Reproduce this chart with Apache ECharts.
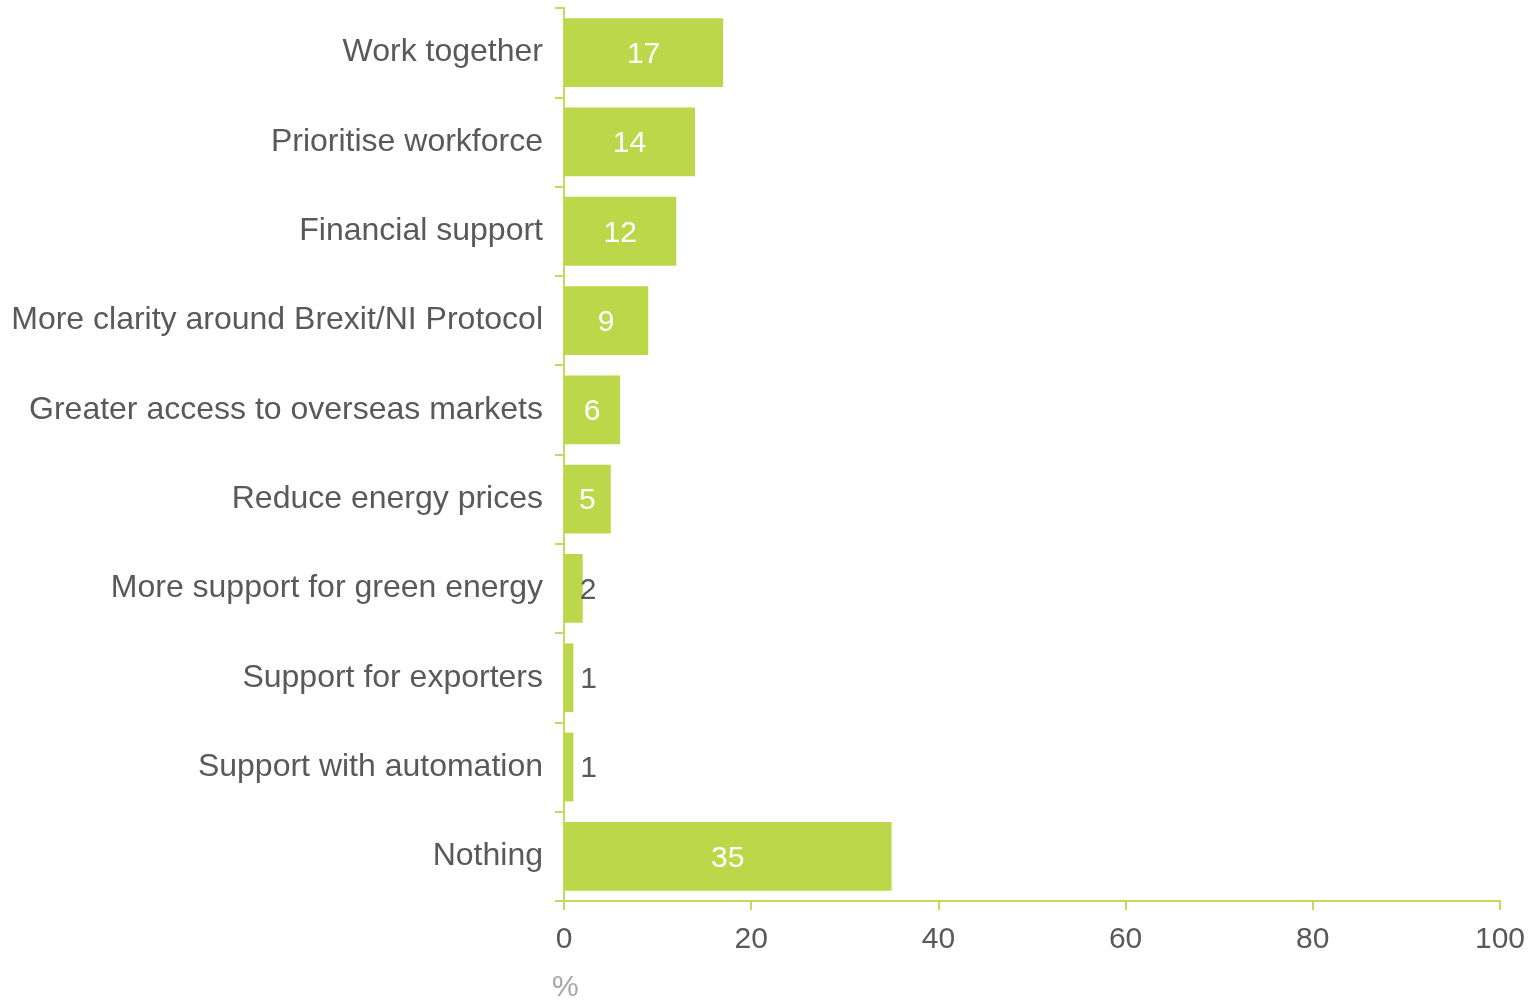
<!DOCTYPE html>
<html>
<head>
<meta charset="utf-8">
<script src="https://cdn.jsdelivr.net/npm/echarts@6/dist/echarts.min.js"></script>
<style>
  html, body { margin: 0; padding: 0; background: #fff; }
  #chart { width: 1532px; height: 1003px; }
</style>
</head>
<body>
<div id="chart"></div>
<script>
const categories = [
  'Work together',
  'Prioritise workforce',
  'Financial support',
  'More clarity around Brexit/NI Protocol',
  'Greater access to overseas markets',
  'Reduce energy prices',
  'More support for green energy',
  'Support for exporters',
  'Support with automation',
  'Nothing'
]
const values = [17, 14, 12, 9, 6, 5, 2, 1, 1, 35]
const xTicks = [0, 20, 40, 60, 80, 100]

const green = '#bdd74a'
const lineGreen = '#c3db5c'

// small bars get their label outside, in dark grey
const seriesData = values.map(v => {
  if (v > 3) return { value: v }
  return {
    value: v,
    label: {
      position: 'right',
      distance: v === 2 ? -3 : 7,
      color: '#595959'
    }
  }
})

const chart = echarts.init(document.getElementById('chart'))
chart.setOption({
  animation: false,
  grid: { left: 564, right: 32, top: 8, bottom: 98 },
  xAxis: {
    type: 'value',
    min: 0,
    max: 100,
    interval: 20,
    name: '%',
    nameLocation: 'start',
    nameGap: 0,
    nameTextStyle: {
      color: '#a6a6a6', fontSize: 30, fontFamily: 'Liberation Sans',
      align: 'left', verticalAlign: 'top', padding: [72, 0, 0, -12]
    },
    axisLine: { show: true, lineStyle: { color: lineGreen, width: 2 } },
    axisTick: { show: true, length: 9, lineStyle: { color: lineGreen, width: 2 } },
    splitLine: { show: false },
    axisLabel: {
      color: '#595959', fontSize: 30, fontFamily: 'Liberation Sans', margin: 24,
      formatter: v => xTicks.includes(v) ? String(v) : ''
    }
  },
  yAxis: {
    type: 'category',
    inverse: true,
    data: categories,
    axisLine: { show: true, lineStyle: { color: lineGreen, width: 2 } },
    axisTick: { show: true, length: 9, alignWithLabel: false, lineStyle: { color: lineGreen, width: 2 } },
    axisLabel: { color: '#595959', fontSize: 32, fontFamily: 'Liberation Sans', margin: 21 }
  },
  series: [{
    type: 'bar',
    data: seriesData,
    barCategoryGap: '23%',
    itemStyle: { color: green },
    label: {
      show: true,
      position: 'inside',
      offset: [0, 2],
      color: '#ffffff',
      fontSize: 30,
      fontFamily: 'Liberation Sans'
    }
  }]
})
</script>
</body>
</html>
